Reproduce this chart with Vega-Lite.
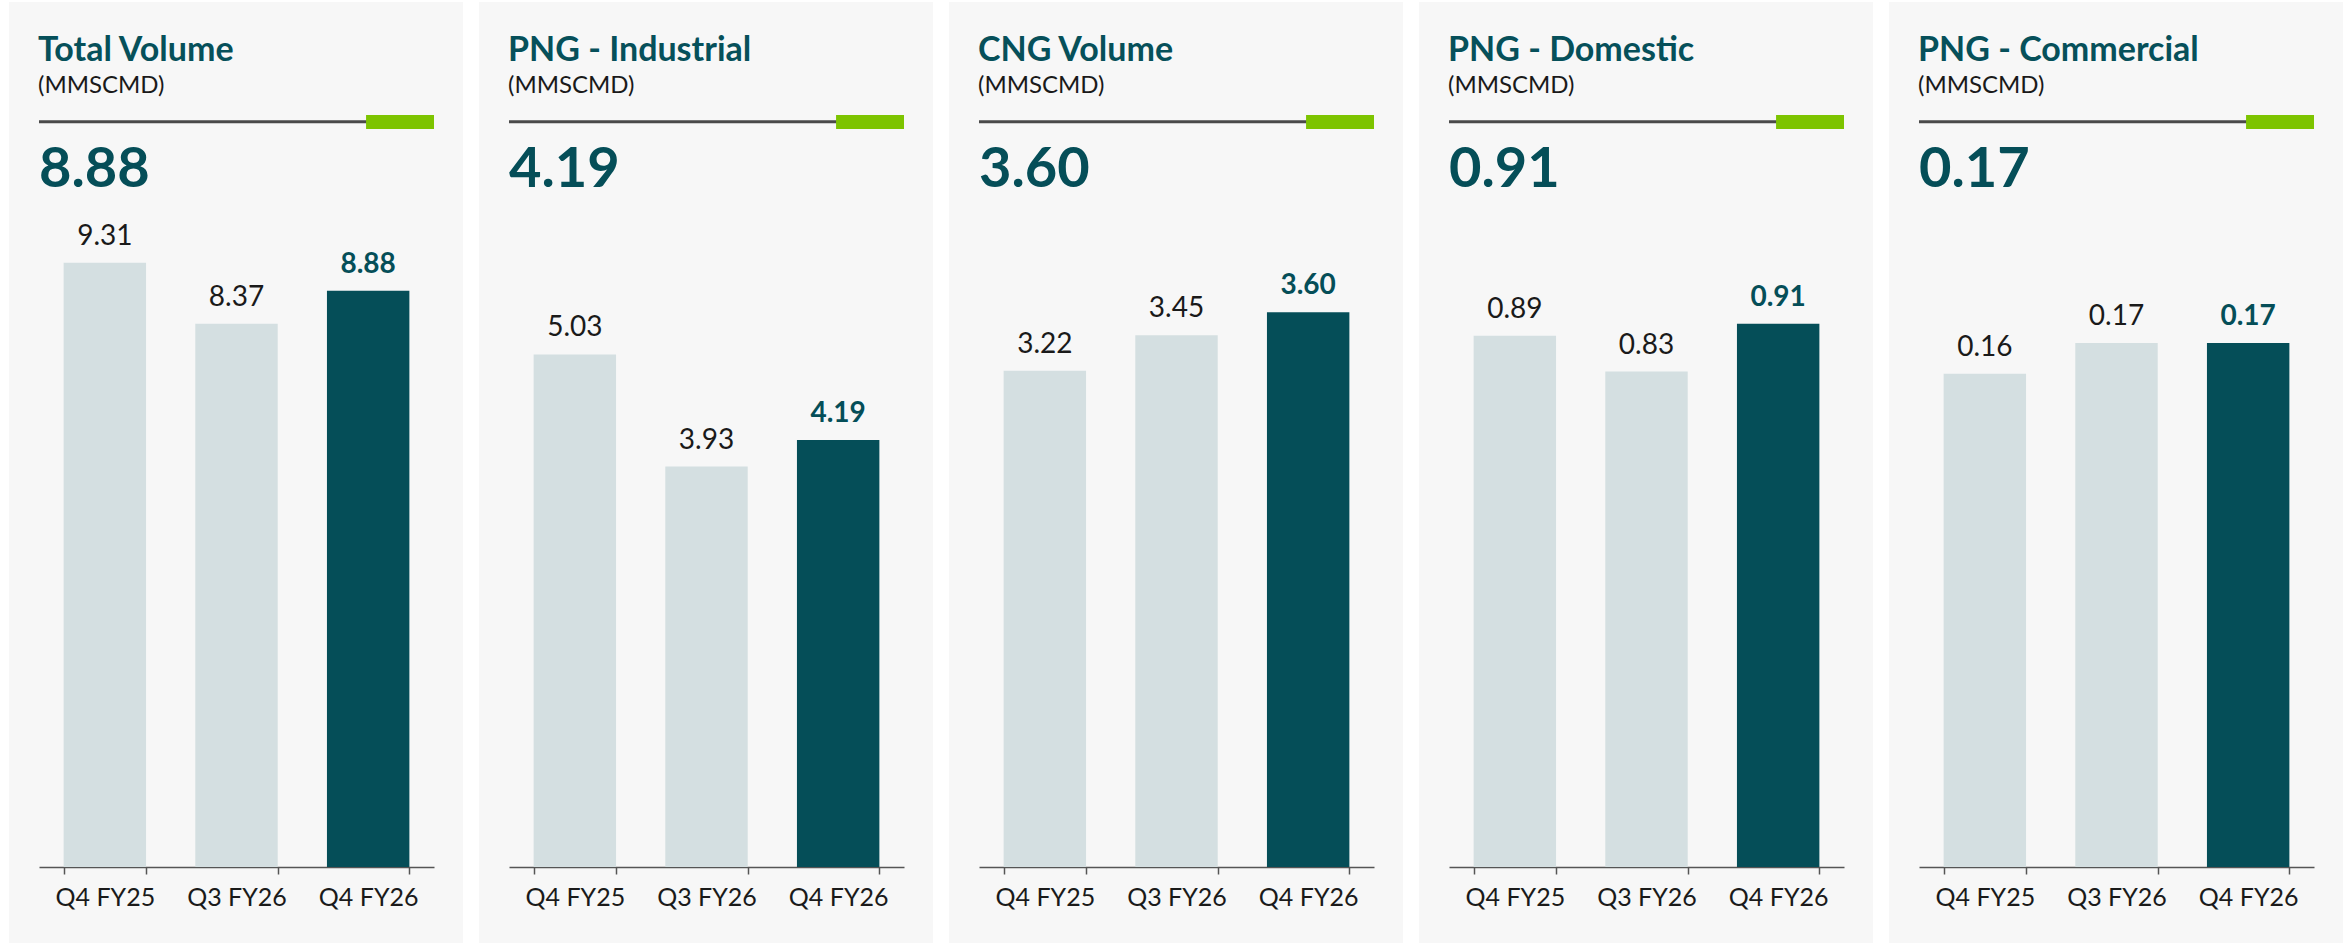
{
  "$schema": "https://vega.github.io/schema/vega-lite/v6.json",
  "background": "white",
  "padding": {"left": 9, "top": 2, "right": 0, "bottom": 0},
  "autosize": {"type": "pad"},
  "datasets": {
    "vol": [
      {"metric": "Total Volume", "quarter": "Q4 FY25", "value": 9.31},
      {"metric": "Total Volume", "quarter": "Q3 FY26", "value": 8.37},
      {"metric": "Total Volume", "quarter": "Q4 FY26", "value": 8.88},
      {"metric": "PNG - Industrial", "quarter": "Q4 FY25", "value": 5.03},
      {"metric": "PNG - Industrial", "quarter": "Q3 FY26", "value": 3.93},
      {"metric": "PNG - Industrial", "quarter": "Q4 FY26", "value": 4.19},
      {"metric": "CNG Volume", "quarter": "Q4 FY25", "value": 3.22},
      {"metric": "CNG Volume", "quarter": "Q3 FY26", "value": 3.45},
      {"metric": "CNG Volume", "quarter": "Q4 FY26", "value": 3.60},
      {"metric": "PNG - Domestic", "quarter": "Q4 FY25", "value": 0.89},
      {"metric": "PNG - Domestic", "quarter": "Q3 FY26", "value": 0.83},
      {"metric": "PNG - Domestic", "quarter": "Q4 FY26", "value": 0.91},
      {"metric": "PNG - Commercial", "quarter": "Q4 FY25", "value": 0.16},
      {"metric": "PNG - Commercial", "quarter": "Q3 FY26", "value": 0.17},
      {"metric": "PNG - Commercial", "quarter": "Q4 FY26", "value": 0.17}
    ]
  },
  "hconcat": [
    {
      "title": {"text": "Total Volume", "subtitle": "(MMSCMD)"},
      "width": 454, "height": 941,
      "data": {"name": "vol"},
      "transform": [{"filter": "datum.metric === 'Total Volume'"}],
      "resolve": {"scale": {"x": "independent"}},
      "layer": [
        {"mark": {"type": "bar"}, "encoding": {
          "x": {"field": "quarter", "type": "nominal", "sort": null, "scale": {"domain": ["Q4 FY25", "Q3 FY26", "Q4 FY26"], "range": [30, 425], "paddingInner": 0.374, "paddingOuter": 0.187}},
          "y": {"field": "value", "type": "quantitative", "scale": {"domain": [0, 13.328], "range": [865, 0], "nice": false, "zero": false}, "axis": null},
          "color": {"condition": {"test": "datum.quarter === 'Q4 FY26'", "value": "#054e58"}, "value": "#d4dfe1"}}},
        {"transform": [{"filter": "datum.quarter !== 'Q4 FY26'"}], "mark": {"type": "text", "baseline": "alphabetic", "dy": -18, "fontSize": 28, "color": "#1a1a1a"}, "encoding": {
          "x": {"field": "quarter", "type": "nominal", "sort": null, "scale": {"domain": ["Q4 FY25", "Q3 FY26", "Q4 FY26"], "range": [30, 425], "paddingInner": 0.374, "paddingOuter": 0.187}, "axis": null},
          "y": {"field": "value", "type": "quantitative"},
          "text": {"field": "value", "format": ".2f"}}},
        {"transform": [{"filter": "datum.quarter === 'Q4 FY26'"}], "mark": {"type": "text", "baseline": "alphabetic", "dy": -18, "fontSize": 28, "fontWeight": "bold", "color": "#054e58"}, "encoding": {
          "x": {"field": "quarter", "type": "nominal", "sort": null, "scale": {"domain": ["Q4 FY25", "Q3 FY26", "Q4 FY26"], "range": [30, 425], "paddingInner": 0.374, "paddingOuter": 0.187}, "axis": null},
          "y": {"field": "value", "type": "quantitative"},
          "text": {"field": "value", "format": ".2f"}}},
        {"data": {"values": [{}]}, "mark": {"type": "rule", "color": "#4a4a4a", "strokeWidth": 3}, "encoding": {
          "x": {"datum": 0, "type": "quantitative", "scale": {"domain": [0, 1], "range": [30, 425]}, "axis": null},
          "x2": {"datum": 1},
          "y": {"datum": 11.484, "type": "quantitative"}}},
        {"data": {"values": [{}]}, "mark": {"type": "rect", "color": "#7dc400"}, "encoding": {
          "x": {"datum": 0.828, "type": "quantitative", "scale": {"domain": [0, 1], "range": [30, 425]}, "axis": null},
          "x2": {"datum": 1},
          "y": {"datum": 11.587, "type": "quantitative"},
          "y2": {"datum": 11.371}}},
        {"transform": [{"filter": "datum.quarter === 'Q4 FY26'"}], "mark": {"type": "text", "align": "left", "baseline": "alphabetic", "fontSize": 56, "fontWeight": "bold", "color": "#054e58"}, "encoding": {
          "x": {"datum": 0, "type": "quantitative", "scale": {"domain": [0, 1], "range": [30, 425]}, "axis": null},
          "y": {"datum": 10.478, "type": "quantitative"},
          "text": {"field": "value", "format": ".2f"}}}
      ]
    },
    {
      "title": {"text": "PNG - Industrial", "subtitle": "(MMSCMD)"},
      "width": 454, "height": 941,
      "data": {"name": "vol"},
      "transform": [{"filter": "datum.metric === 'PNG - Industrial'"}],
      "resolve": {"scale": {"x": "independent"}},
      "layer": [
        {"mark": {"type": "bar"}, "encoding": {
          "x": {"field": "quarter", "type": "nominal", "sort": null, "scale": {"domain": ["Q4 FY25", "Q3 FY26", "Q4 FY26"], "range": [30, 425], "paddingInner": 0.374, "paddingOuter": 0.187}},
          "y": {"field": "value", "type": "quantitative", "scale": {"domain": [0, 8.489], "range": [865, 0], "nice": false, "zero": false}, "axis": null},
          "color": {"condition": {"test": "datum.quarter === 'Q4 FY26'", "value": "#054e58"}, "value": "#d4dfe1"}}},
        {"transform": [{"filter": "datum.quarter !== 'Q4 FY26'"}], "mark": {"type": "text", "baseline": "alphabetic", "dy": -18, "fontSize": 28, "color": "#1a1a1a"}, "encoding": {
          "x": {"field": "quarter", "type": "nominal", "sort": null, "scale": {"domain": ["Q4 FY25", "Q3 FY26", "Q4 FY26"], "range": [30, 425], "paddingInner": 0.374, "paddingOuter": 0.187}, "axis": null},
          "y": {"field": "value", "type": "quantitative"},
          "text": {"field": "value", "format": ".2f"}}},
        {"transform": [{"filter": "datum.quarter === 'Q4 FY26'"}], "mark": {"type": "text", "baseline": "alphabetic", "dy": -18, "fontSize": 28, "fontWeight": "bold", "color": "#054e58"}, "encoding": {
          "x": {"field": "quarter", "type": "nominal", "sort": null, "scale": {"domain": ["Q4 FY25", "Q3 FY26", "Q4 FY26"], "range": [30, 425], "paddingInner": 0.374, "paddingOuter": 0.187}, "axis": null},
          "y": {"field": "value", "type": "quantitative"},
          "text": {"field": "value", "format": ".2f"}}},
        {"data": {"values": [{}]}, "mark": {"type": "rule", "color": "#4a4a4a", "strokeWidth": 3}, "encoding": {
          "x": {"datum": 0, "type": "quantitative", "scale": {"domain": [0, 1], "range": [30, 425]}, "axis": null},
          "x2": {"datum": 1},
          "y": {"datum": 7.314, "type": "quantitative"}}},
        {"data": {"values": [{}]}, "mark": {"type": "rect", "color": "#7dc400"}, "encoding": {
          "x": {"datum": 0.828, "type": "quantitative", "scale": {"domain": [0, 1], "range": [30, 425]}, "axis": null},
          "x2": {"datum": 1},
          "y": {"datum": 7.380, "type": "quantitative"},
          "y2": {"datum": 7.243}}},
        {"transform": [{"filter": "datum.quarter === 'Q4 FY26'"}], "mark": {"type": "text", "align": "left", "baseline": "alphabetic", "fontSize": 56, "fontWeight": "bold", "color": "#054e58"}, "encoding": {
          "x": {"datum": 0, "type": "quantitative", "scale": {"domain": [0, 1], "range": [30, 425]}, "axis": null},
          "y": {"datum": 6.673, "type": "quantitative"},
          "text": {"field": "value", "format": ".2f"}}}
      ]
    },
    {
      "title": {"text": "CNG Volume", "subtitle": "(MMSCMD)"},
      "width": 454, "height": 941,
      "data": {"name": "vol"},
      "transform": [{"filter": "datum.metric === 'CNG Volume'"}],
      "resolve": {"scale": {"x": "independent"}},
      "layer": [
        {"mark": {"type": "bar"}, "encoding": {
          "x": {"field": "quarter", "type": "nominal", "sort": null, "scale": {"domain": ["Q4 FY25", "Q3 FY26", "Q4 FY26"], "range": [30, 425], "paddingInner": 0.374, "paddingOuter": 0.187}},
          "y": {"field": "value", "type": "quantitative", "scale": {"domain": [0, 5.613], "range": [865, 0], "nice": false, "zero": false}, "axis": null},
          "color": {"condition": {"test": "datum.quarter === 'Q4 FY26'", "value": "#054e58"}, "value": "#d4dfe1"}}},
        {"transform": [{"filter": "datum.quarter !== 'Q4 FY26'"}], "mark": {"type": "text", "baseline": "alphabetic", "dy": -18, "fontSize": 28, "color": "#1a1a1a"}, "encoding": {
          "x": {"field": "quarter", "type": "nominal", "sort": null, "scale": {"domain": ["Q4 FY25", "Q3 FY26", "Q4 FY26"], "range": [30, 425], "paddingInner": 0.374, "paddingOuter": 0.187}, "axis": null},
          "y": {"field": "value", "type": "quantitative"},
          "text": {"field": "value", "format": ".2f"}}},
        {"transform": [{"filter": "datum.quarter === 'Q4 FY26'"}], "mark": {"type": "text", "baseline": "alphabetic", "dy": -18, "fontSize": 28, "fontWeight": "bold", "color": "#054e58"}, "encoding": {
          "x": {"field": "quarter", "type": "nominal", "sort": null, "scale": {"domain": ["Q4 FY25", "Q3 FY26", "Q4 FY26"], "range": [30, 425], "paddingInner": 0.374, "paddingOuter": 0.187}, "axis": null},
          "y": {"field": "value", "type": "quantitative"},
          "text": {"field": "value", "format": ".2f"}}},
        {"data": {"values": [{}]}, "mark": {"type": "rule", "color": "#4a4a4a", "strokeWidth": 3}, "encoding": {
          "x": {"datum": 0, "type": "quantitative", "scale": {"domain": [0, 1], "range": [30, 425]}, "axis": null},
          "x2": {"datum": 1},
          "y": {"datum": 4.836, "type": "quantitative"}}},
        {"data": {"values": [{}]}, "mark": {"type": "rect", "color": "#7dc400"}, "encoding": {
          "x": {"datum": 0.828, "type": "quantitative", "scale": {"domain": [0, 1], "range": [30, 425]}, "axis": null},
          "x2": {"datum": 1},
          "y": {"datum": 4.880, "type": "quantitative"},
          "y2": {"datum": 4.789}}},
        {"transform": [{"filter": "datum.quarter === 'Q4 FY26'"}], "mark": {"type": "text", "align": "left", "baseline": "alphabetic", "fontSize": 56, "fontWeight": "bold", "color": "#054e58"}, "encoding": {
          "x": {"datum": 0, "type": "quantitative", "scale": {"domain": [0, 1], "range": [30, 425]}, "axis": null},
          "y": {"datum": 4.413, "type": "quantitative"},
          "text": {"field": "value", "format": ".2f"}}}
      ]
    },
    {
      "title": {"text": "PNG - Domestic", "subtitle": "(MMSCMD)"},
      "width": 454, "height": 941,
      "data": {"name": "vol"},
      "transform": [{"filter": "datum.metric === 'PNG - Domestic'"}],
      "resolve": {"scale": {"x": "independent"}},
      "layer": [
        {"mark": {"type": "bar"}, "encoding": {
          "x": {"field": "quarter", "type": "nominal", "sort": null, "scale": {"domain": ["Q4 FY25", "Q3 FY26", "Q4 FY26"], "range": [30, 425], "paddingInner": 0.374, "paddingOuter": 0.187}},
          "y": {"field": "value", "type": "quantitative", "scale": {"domain": [0, 1.449], "range": [865, 0], "nice": false, "zero": false}, "axis": null},
          "color": {"condition": {"test": "datum.quarter === 'Q4 FY26'", "value": "#054e58"}, "value": "#d4dfe1"}}},
        {"transform": [{"filter": "datum.quarter !== 'Q4 FY26'"}], "mark": {"type": "text", "baseline": "alphabetic", "dy": -18, "fontSize": 28, "color": "#1a1a1a"}, "encoding": {
          "x": {"field": "quarter", "type": "nominal", "sort": null, "scale": {"domain": ["Q4 FY25", "Q3 FY26", "Q4 FY26"], "range": [30, 425], "paddingInner": 0.374, "paddingOuter": 0.187}, "axis": null},
          "y": {"field": "value", "type": "quantitative"},
          "text": {"field": "value", "format": ".2f"}}},
        {"transform": [{"filter": "datum.quarter === 'Q4 FY26'"}], "mark": {"type": "text", "baseline": "alphabetic", "dy": -18, "fontSize": 28, "fontWeight": "bold", "color": "#054e58"}, "encoding": {
          "x": {"field": "quarter", "type": "nominal", "sort": null, "scale": {"domain": ["Q4 FY25", "Q3 FY26", "Q4 FY26"], "range": [30, 425], "paddingInner": 0.374, "paddingOuter": 0.187}, "axis": null},
          "y": {"field": "value", "type": "quantitative"},
          "text": {"field": "value", "format": ".2f"}}},
        {"data": {"values": [{}]}, "mark": {"type": "rule", "color": "#4a4a4a", "strokeWidth": 3}, "encoding": {
          "x": {"datum": 0, "type": "quantitative", "scale": {"domain": [0, 1], "range": [30, 425]}, "axis": null},
          "x2": {"datum": 1},
          "y": {"datum": 1.2485, "type": "quantitative"}}},
        {"data": {"values": [{}]}, "mark": {"type": "rect", "color": "#7dc400"}, "encoding": {
          "x": {"datum": 0.828, "type": "quantitative", "scale": {"domain": [0, 1], "range": [30, 425]}, "axis": null},
          "x2": {"datum": 1},
          "y": {"datum": 1.2597, "type": "quantitative"},
          "y2": {"datum": 1.2363}}},
        {"transform": [{"filter": "datum.quarter === 'Q4 FY26'"}], "mark": {"type": "text", "align": "left", "baseline": "alphabetic", "fontSize": 56, "fontWeight": "bold", "color": "#054e58"}, "encoding": {
          "x": {"datum": 0, "type": "quantitative", "scale": {"domain": [0, 1], "range": [30, 425]}, "axis": null},
          "y": {"datum": 1.1391, "type": "quantitative"},
          "text": {"field": "value", "format": ".2f"}}}
      ]
    },
    {
      "title": {"text": "PNG - Commercial", "subtitle": "(MMSCMD)"},
      "width": 454, "height": 941,
      "data": {"name": "vol"},
      "transform": [{"filter": "datum.metric === 'PNG - Commercial'"}],
      "resolve": {"scale": {"x": "independent"}},
      "layer": [
        {"mark": {"type": "bar"}, "encoding": {
          "x": {"field": "quarter", "type": "nominal", "sort": null, "scale": {"domain": ["Q4 FY25", "Q3 FY26", "Q4 FY26"], "range": [30, 425], "paddingInner": 0.374, "paddingOuter": 0.187}},
          "y": {"field": "value", "type": "quantitative", "scale": {"domain": [0, 0.2806], "range": [865, 0], "nice": false, "zero": false}, "axis": null},
          "color": {"condition": {"test": "datum.quarter === 'Q4 FY26'", "value": "#054e58"}, "value": "#d4dfe1"}}},
        {"transform": [{"filter": "datum.quarter !== 'Q4 FY26'"}], "mark": {"type": "text", "baseline": "alphabetic", "dy": -18, "fontSize": 28, "color": "#1a1a1a"}, "encoding": {
          "x": {"field": "quarter", "type": "nominal", "sort": null, "scale": {"domain": ["Q4 FY25", "Q3 FY26", "Q4 FY26"], "range": [30, 425], "paddingInner": 0.374, "paddingOuter": 0.187}, "axis": null},
          "y": {"field": "value", "type": "quantitative"},
          "text": {"field": "value", "format": ".2f"}}},
        {"transform": [{"filter": "datum.quarter === 'Q4 FY26'"}], "mark": {"type": "text", "baseline": "alphabetic", "dy": -18, "fontSize": 28, "fontWeight": "bold", "color": "#054e58"}, "encoding": {
          "x": {"field": "quarter", "type": "nominal", "sort": null, "scale": {"domain": ["Q4 FY25", "Q3 FY26", "Q4 FY26"], "range": [30, 425], "paddingInner": 0.374, "paddingOuter": 0.187}, "axis": null},
          "y": {"field": "value", "type": "quantitative"},
          "text": {"field": "value", "format": ".2f"}}},
        {"data": {"values": [{}]}, "mark": {"type": "rule", "color": "#4a4a4a", "strokeWidth": 3}, "encoding": {
          "x": {"datum": 0, "type": "quantitative", "scale": {"domain": [0, 1], "range": [30, 425]}, "axis": null},
          "x2": {"datum": 1},
          "y": {"datum": 0.24177, "type": "quantitative"}}},
        {"data": {"values": [{}]}, "mark": {"type": "rect", "color": "#7dc400"}, "encoding": {
          "x": {"datum": 0.828, "type": "quantitative", "scale": {"domain": [0, 1], "range": [30, 425]}, "axis": null},
          "x2": {"datum": 1},
          "y": {"datum": 0.24394, "type": "quantitative"},
          "y2": {"datum": 0.23940}}},
        {"transform": [{"filter": "datum.quarter === 'Q4 FY26'"}], "mark": {"type": "text", "align": "left", "baseline": "alphabetic", "fontSize": 56, "fontWeight": "bold", "color": "#054e58"}, "encoding": {
          "x": {"datum": 0, "type": "quantitative", "scale": {"domain": [0, 1], "range": [30, 425]}, "axis": null},
          "y": {"datum": 0.22059, "type": "quantitative"},
          "text": {"field": "value", "format": ".2f"}}}
      ]
    }
  ],
  "config": {
    "font": "Lato",
    "view": {"fill": "#f7f7f7", "stroke": null},
    "concat": {"spacing": 16},
    "title": {"anchor": "start", "frame": "group", "offset": -96, "dx": 29, "font": "Lato", "fontSize": 34, "fontWeight": "bold", "color": "#06505a", "subtitleFont": "Lato", "subtitleFontSize": 24, "subtitleColor": "#1a1a1a", "subtitlePadding": 6},
    "axisX": {"title": null, "labelAngle": 0, "offset": -76, "tickBand": "extent", "domainColor": "#555555", "domainWidth": 1.5, "tickColor": "#555555", "tickWidth": 1.5, "tickSize": 7, "labelFont": "Lato", "labelFontSize": 25, "labelColor": "#1a1a1a", "labelPadding": 11, "grid": false}
  }
}
